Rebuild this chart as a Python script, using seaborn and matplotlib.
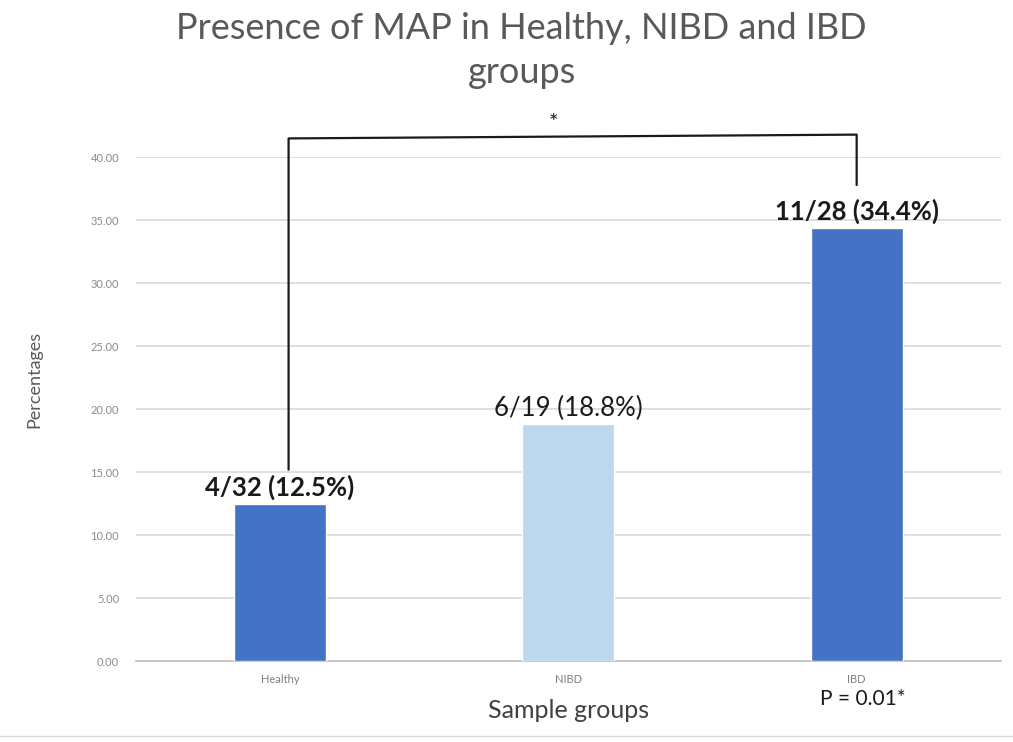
import matplotlib
matplotlib.use("Agg")
import matplotlib.pyplot as plt
from matplotlib.lines import Line2D
import seaborn as sns
import pandas as pd

# chart values
groups = ["Healthy", "NIBD", "IBD"]
percentages = [12.5, 18.8, 34.4]
bar_labels = ["4/32 (12.5%)", "6/19 (18.8%)", "11/28 (34.4%)"]
label_bold = [True, False, True]
bar_colors = ["#4472C4", "#BDD7EE", "#4472C4"]
y_ticks = [0, 5, 10, 15, 20, 25, 30, 35, 40]

sns.set_theme(style="white")
plt.rcParams["font.family"] = ["Lato", "DejaVu Sans"]

df = pd.DataFrame({"group": groups, "pct": percentages})

fig = plt.figure(figsize=(10.13, 7.42), dpi=100)
ax = fig.add_axes([0.134, 0.109, 0.854, 0.679])

sns.barplot(data=df, x="group", y="pct", hue="group", palette=bar_colors,
            width=0.32, legend=False, ax=ax, saturation=1, zorder=3)

ax.set_ylim(0, 40)
ax.set_xlim(-0.5, 2.5)
ax.set_yticks(y_ticks)
ax.set_yticklabels([f"{v:.2f}" for v in y_ticks], fontsize=8, color="#8c8c8c")
ax.tick_params(axis="x", labelsize=8, colors="#7f7f7f", length=0, pad=9)
ax.tick_params(axis="y", length=0, pad=12)
ax.yaxis.grid(True, color="#d9d9d9", linewidth=1.2, zorder=0)
for s in ["top", "right", "left"]:
    ax.spines[s].set_visible(False)
ax.spines["bottom"].set_color("#bfbfbf")
ax.spines["bottom"].set_linewidth(1.2)

ax.set_xlabel("Sample groups", fontsize=18, color="#404040", labelpad=10)
ax.set_ylabel("Percentages", fontsize=13, color="#595959")
ax.yaxis.set_label_coords(-0.108, 0.56)

# labels above bars
for i, (v, lab, b) in enumerate(zip(percentages, bar_labels, label_bold)):
    ax.text(i, v + 0.3, lab, ha="center", va="bottom", fontsize=18.5,
            fontweight="bold" if b else "normal", color="#1a1a1a")

# significance bracket between Healthy and IBD
ax.plot([0.03, 0.03, 2.0, 2.0],
        [15.2, 41.5, 41.8, 37.8], color="#1a1a1a", linewidth=1.6,
        clip_on=False, zorder=4)
ax.text(0.95, 41.9, "*", ha="center", va="bottom", fontsize=16,
        color="#1a1a1a")

ax.text(2.02, -2.2, "P = 0.01*", ha="center", va="top", fontsize=15,
        color="#1a1a1a")

fig.suptitle("Presence of MAP in Healthy, NIBD and IBD\ngroups",
             x=0.515, y=0.984, va="top", fontsize=26, color="#595959",
             linespacing=1.42)

# faint border line at the bottom of the picture
fig.add_artist(Line2D([0, 1], [1 - 736 / 742] * 2, color="#d9d9d9",
                      linewidth=1, transform=fig.transFigure))

fig.savefig("out.png", dpi=100, facecolor="white")
